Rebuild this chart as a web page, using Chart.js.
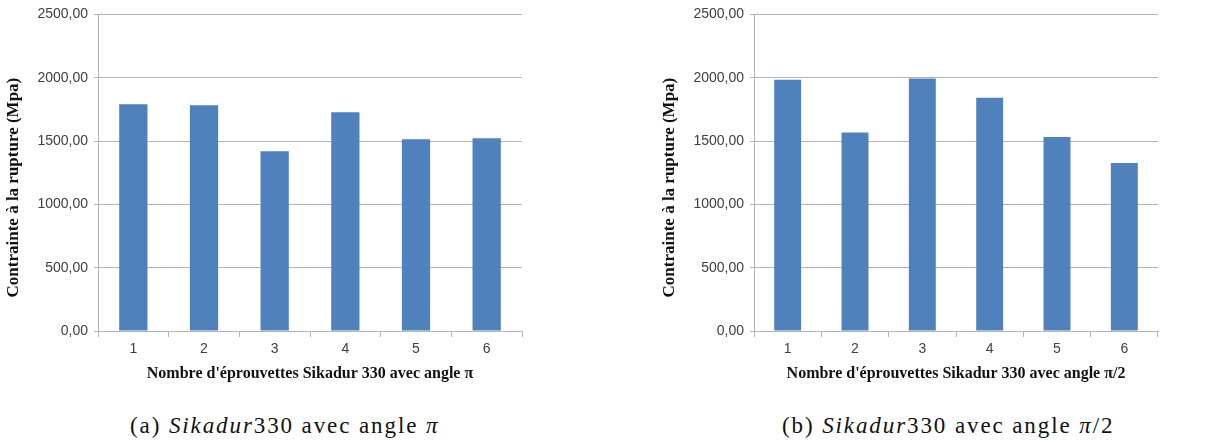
<!DOCTYPE html>
<html>
<head>
<meta charset="utf-8">
<script src="https://cdn.jsdelivr.net/npm/chart.js@4"></script>
<style>
  body { margin: 0; background: #fff; width: 1231px; height: 446px; position: relative; overflow: hidden; }
  .box { position: absolute; }
  .caption { position: absolute; font-family: "Liberation Serif", serif; font-size: 23px; letter-spacing: 1.9px; color: #111; white-space: nowrap; }
</style>
</head>
<body>
<div class="box" style="left:-1px;top:0;width:527px;height:391px"><canvas id="chart-a"></canvas></div>
<div class="box" style="left:655px;top:0;width:507px;height:391px"><canvas id="chart-b"></canvas></div>
<div class="caption" style="left:130px;top:413px">(a) <i>Sikadur</i>330 avec angle <i>π</i></div>
<div class="caption" style="left:782px;top:413px">(b) <i>Sikadur</i>330 avec angle <i>π</i>/2</div>
<script>
// Numéros des éprouvettes
const eprouvettes = ['1', '2', '3', '4', '5', '6'];

// Contrainte à la rupture (Mpa)
const contrainteAnglePi = [1790, 1782, 1420, 1728, 1515, 1522];
const contrainteAnglePi2 = [1984, 1568, 1993, 1842, 1532, 1326];

const Y_MAX = 2500;
const Y_PAS = 500;

const COULEUR_BARRE = '#4F81BD';
const COULEUR_GRILLE = '#b4b4b4';

// Espaces en fin de titre pour descendre un peu le texte (comme dans Excel)
const TITRE_Y = 'Contrainte à la rupture (Mpa)' + '\u00a0'.repeat(7);

// Format des graduations: 1500 -> "1500,00"
function formatTick(v) {
    return v.toFixed(2).replace('.', ',');
}

function creerGraphique(id, valeurs, titreX) {
    const ctx = document.getElementById(id).getContext('2d');

    new Chart(ctx, {
        type: 'bar',
        data: {
            labels: eprouvettes,
            datasets: [{
                data: valeurs,
                backgroundColor: COULEUR_BARRE,
                borderWidth: 0,
                barPercentage: 0.4,
                categoryPercentage: 1.0
            }]
        },
        options: {
            responsive: true,
            maintainAspectRatio: false,
            animation: false,
            layout: { padding: { top: 8, right: 4, left: 0, bottom: 4 } },
            plugins: {
                legend: { display: false },
                tooltip: { enabled: false }
            },
            scales: {
                x: {
                    offset: true,
                    grid: {
                        offset: true,
                        drawOnChartArea: false,
                        tickLength: 6,
                        color: COULEUR_GRILLE
                    },
                    border: { color: COULEUR_GRILLE },
                    ticks: {
                        color: '#404040',
                        font: { family: 'Liberation Sans', size: 14 },
                        padding: 4
                    },
                    title: {
                        display: true,
                        text: titreX,
                        color: '#111',
                        font: { family: 'Liberation Serif', size: 16, weight: 'bold' },
                        padding: { top: 2 }
                    }
                },
                y: {
                    min: 0,
                    max: Y_MAX,
                    ticks: {
                        stepSize: Y_PAS,
                        color: '#404040',
                        font: { family: 'Liberation Sans', size: 14 },
                        padding: 6,
                        callback: formatTick
                    },
                    grid: {
                        color: COULEUR_GRILLE,
                        tickLength: 4
                    },
                    border: { color: COULEUR_GRILLE },
                    title: {
                        display: true,
                        text: TITRE_Y,
                        color: '#111',
                        font: { family: 'Liberation Serif', size: 17, weight: 'bold' },
                        padding: { bottom: 8 }
                    }
                }
            }
        }
    });
}

creerGraphique('chart-a', contrainteAnglePi, "Nombre d'éprouvettes Sikadur 330 avec angle π");
creerGraphique('chart-b', contrainteAnglePi2, "Nombre d'éprouvettes Sikadur 330 avec angle π/2");
</script>
</body>
</html>
